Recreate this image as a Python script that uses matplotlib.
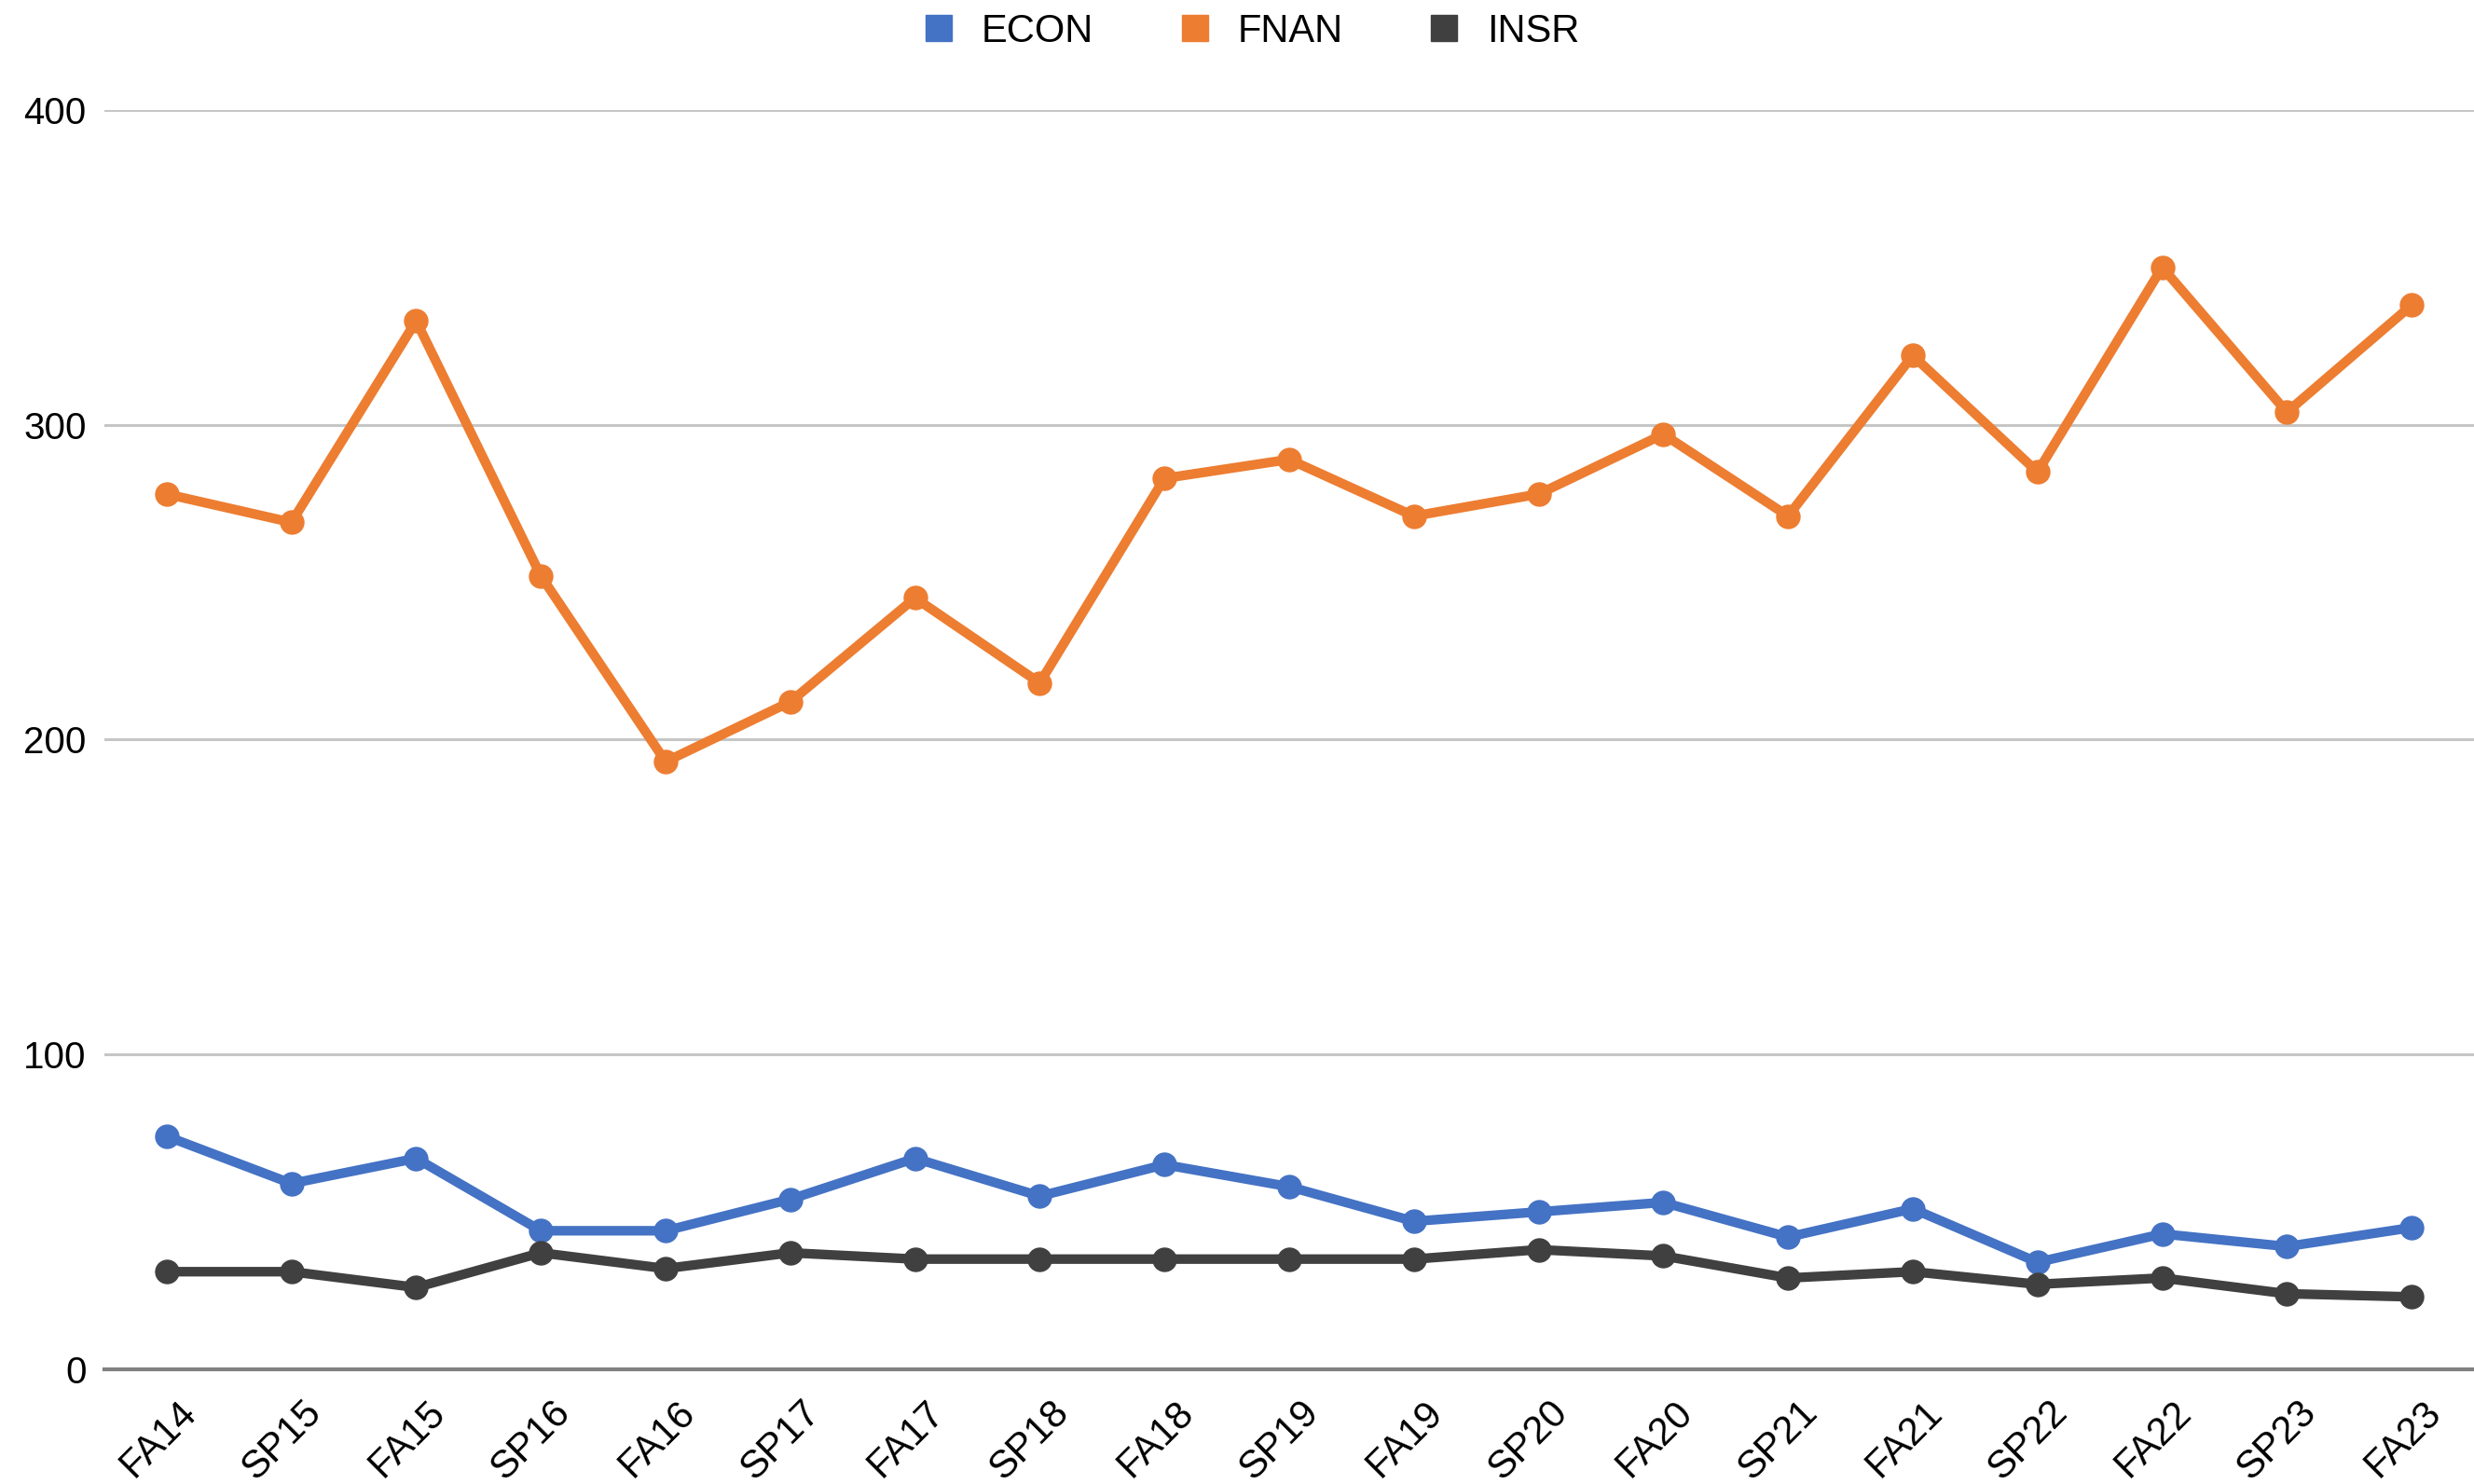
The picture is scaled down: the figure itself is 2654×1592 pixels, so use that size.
import numpy as np
import matplotlib
matplotlib.use("Agg")
import matplotlib.pyplot as plt
import matplotlib.transforms as mtrans
from matplotlib.lines import Line2D

plt.rcParams['font.family'] = ['Liberation Sans', 'DejaVu Sans']

# Semester und Werte je Fach
terms = ["FA14", "SP15", "FA15", "SP16", "FA16", "SP17", "FA17", "SP18", "FA18", "SP19",
         "FA19", "SP20", "FA20", "SP21", "FA21", "SP22", "FA22", "SP23", "FA23"]
econ = [74, 59, 67, 44, 44, 54, 67, 55, 65, 58, 47, 50, 53, 42, 51, 34, 43, 39, 45]
fnan = [278, 269, 333, 252, 193, 212, 245, 218, 283, 289, 271, 278, 297, 271, 322, 285, 350, 304, 338]
insr = [31, 31, 26, 37, 32, 37, 35, 35, 35, 35, 35, 38, 36, 29, 31, 27, 29, 24, 23]

series = [("ECON", econ, "#4472C4"), ("FNAN", fnan, "#ED7D31"), ("INSR", insr, "#404040")]

fig = plt.figure(figsize=(26.54, 15.92), dpi=100)
ax = fig.add_axes([0.0422, 0.0773, 0.9578, 0.8486])

x = np.arange(len(terms))
for name, vals, col in series:
  ax.plot(x, vals, color=col, lw=7.4, marker='o', ms=18, zorder=3, solid_joinstyle='round')

ax.set_xlim(-0.5, len(terms) - 0.5)
ax.set_ylim(0, 400)
ax.set_yticks([0, 100, 200, 300, 400])
ax.set_xticks(x)
ax.set_xticklabels(terms, rotation=45, ha='right', rotation_mode='anchor', fontsize=30)
ax.tick_params(axis='y', labelsize=29, length=0, pad=14)
ax.tick_params(axis='x', length=0, pad=12)

# Beschriftung etwas nach rechts unten schieben
shift = mtrans.ScaledTranslation(8/72, -7/72, fig.dpi_scale_trans)
for lbl in ax.get_xticklabels():
  lbl.set_transform(lbl.get_transform() + shift)

# Gitterlinien
ax.grid(axis='y', color='#C6C6C6', lw=2.2)
ax.set_axisbelow(True)
for s in ['top', 'right', 'left']:
  ax.spines[s].set_visible(False)
ax.spines['bottom'].set_color('#808080')
ax.spines['bottom'].set_linewidth(3)

handles = [Line2D([], [], color=col, marker='s', ls='none', ms=20) for _, _, col in series]
fig.legend(handles, [n for n, _, _ in series], loc='upper center', ncol=3, frameon=False,
           fontsize=30, bbox_to_anchor=(0.505, 1.015), columnspacing=2.1,
           handlelength=1.0, handletextpad=0.6)

fig.savefig("out.png", dpi=100, facecolor='white')
